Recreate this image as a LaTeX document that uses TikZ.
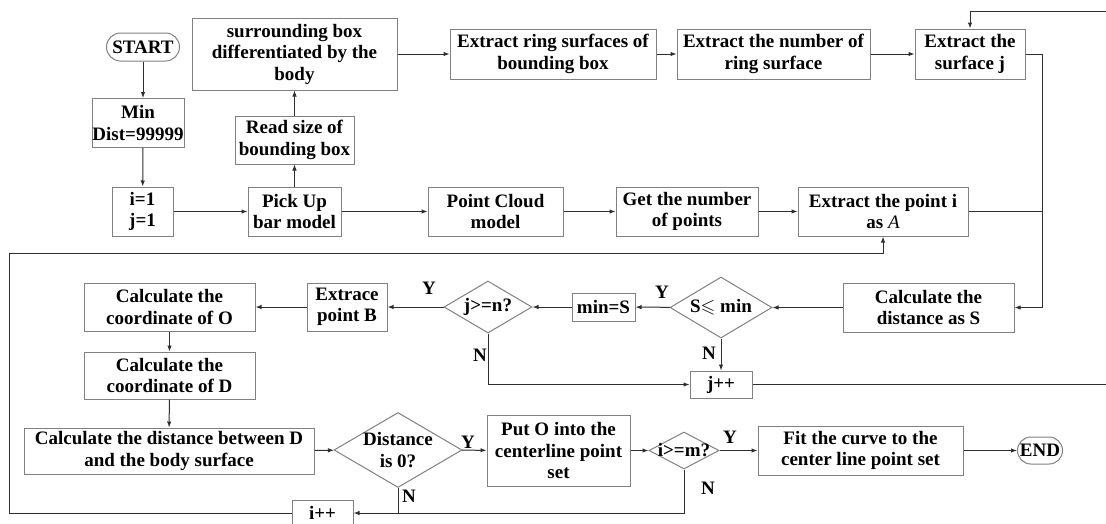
\documentclass[tikz,border=0pt]{standalone}
\usepackage{amssymb}
\usepackage{fontspec}
\setmainfont{Liberation Serif}
\usetikzlibrary{arrows.meta,shapes.geometric,shapes.misc}
\definecolor{ink}{HTML}{2E2E2E}
\definecolor{boxline}{HTML}{808080}

\begin{document}
\begin{tikzpicture}[x=1pt,y=-1pt,
  font=\fontsize{19}{21.5}\selectfont\bfseries,
  proc/.style={draw=boxline,line width=1pt,align=center,inner sep=0pt},
  term/.style={rounded rectangle,draw=boxline,line width=1pt,inner sep=0pt},
  dec/.style={diamond,draw=boxline,line width=1pt,inner sep=0pt},
  flow/.style={draw=ink,line width=1pt,-{Latex[length=6pt,width=4.5pt]}},
  wire/.style={draw=ink,line width=1pt},
  lbl/.style={inner sep=0pt}]
  \useasboundingbox (0,0) rectangle (1106,523);
  \clip (0,0) rectangle (1106,523);

  % upper rows
  \node[term,minimum width=73,minimum height=28] (start) at (143,47) {START};
  \node[proc,minimum width=92,minimum height=49] (mind) at (138,123) {Min\\Dist=99999};
  \node[proc,minimum width=61,minimum height=49] (init) at (142.5,211.5) {i=1\\j=1};
  \node[proc,minimum width=93,minimum height=49] (pick) at (294.5,211.5) {Pick Up\\bar model};
  \node[proc,minimum width=119,minimum height=48] (readsz) at (294.5,140) {Read size of\\bounding box};
  \node[proc,minimum width=205,minimum height=72] (surr) at (294.5,54) {surrounding box\\differentiated by the\\body};
  \node[proc,minimum width=206,minimum height=50] (ring) at (553,54) {Extract ring surfaces of\\bounding box};
  \node[proc,minimum width=193,minimum height=50] (nring) at (773.5,54) {Extract the number of\\ring surface};
  \node[proc,minimum width=110,minimum height=50] (surfj) at (970,54) {Extract the\\surface j};
  \node[proc,minimum width=135,minimum height=49] (cloud) at (495.5,211.5) {Point Cloud\\model};
  \node[proc,minimum width=142,minimum height=49] (npts) at (687,211.5) {Get the number\\of points};
  \node[proc,minimum width=170,minimum height=49] (pti) at (883,211.5) {Extract the point i\\as {\mdseries\itshape A}};

  % middle row
  \node[proc,minimum width=171,minimum height=49] (dists) at (928.5,307.5) {Calculate the\\distance as S};
  \node[dec,minimum width=102,minimum height=61,label={[lbl]center:{S$\leqslant$ min}}] (cmp) at (721,307.5) {};
  \node[proc,minimum width=63,minimum height=28] (setmin) at (603.5,307) {min=S};
  \node[dec,minimum width=88,minimum height=52,label={[lbl]center:{j>=n?}}] (jn) at (488,307) {};
  \node[proc,minimum width=80,minimum height=48] (ptb) at (347,307) {Extrace\\point B};
  \node[proc,minimum width=171,minimum height=48] (coordo) at (169.5,307) {Calculate the\\coordinate of O};
  \node[proc,minimum width=171,minimum height=47] (coordd) at (169.5,375.5) {Calculate the\\coordinate of D};
  \node[proc,minimum width=62,minimum height=27] (jpp) at (721,384.5) {j++};

  % lower row
  \node[proc,minimum width=290,minimum height=46] (distd) at (169,451) {Calculate the distance between D\\and the body surface};
  \node[dec,minimum width=128,minimum height=75,label={[lbl,align=center]center:{Distance\\is 0?}}] (zero) at (398,450) {};
  \node[proc,minimum width=143,minimum height=71] (puto) at (558.5,450.5) {Put O into the\\centerline point\\set};
  \node[dec,minimum width=70,minimum height=37,label={[lbl]center:{i>=m?}}] (im) at (684,450.5) {};
  \node[proc,minimum width=205,minimum height=49] (fit) at (860.5,450.5) {Fit the curve to the\\center line point set};
  \node[term,minimum width=45,minimum height=27] (fin) at (1040,450.5) {END};
  \node[proc,minimum width=61,minimum height=26] (ipp) at (322.5,513) {i++};

  % branch labels
  \node[lbl] (ycmp) at (662,292) {Y};
  \node[lbl] (yjn) at (429,288) {Y};
  \node[lbl] (ncmp) at (709,353) {N};
  \node[lbl] (njn) at (480,355) {N};
  \node[lbl] (yzero) at (468,442) {Y};
  \node[lbl] (nzero) at (409,496) {N};
  \node[lbl] (yim) at (730,437) {Y};
  \node[lbl] (nim) at (708,488) {N};

  \coordinate (bus) at (1042,307.5);
  \coordinate (rtop) at (1106,11);
  \coordinate (rbot) at (1106,384.5);
  \coordinate (lft) at (9,253);

  % connectors
  \draw[flow] (start) -- (start |- mind.north);
  \draw[flow] (start |- mind.south) -- (init);
  \draw[flow] (init) -- (pick);
  \draw[flow] (pick) -- (readsz);
  \draw[flow] (readsz) -- (surr);
  \draw[flow] (surr) -- (ring);
  \draw[flow] (ring) -- (nring);
  \draw[flow] (nring) -- (surfj);
  \draw[flow] (pick) -- (cloud);
  \draw[flow] (cloud) -- (npts);
  \draw[flow] (npts) -- (pti);
  \draw[flow] (surfj.east) -| (bus) -- (dists.east);
  \draw[wire] (pti.east) -- (pti.east -| bus);
  \draw[flow] (dists) -- (cmp);
  \draw[flow] (cmp) -- (setmin);
  \draw[flow] (setmin) -- (jn);
  \draw[flow] (jn) -- (ptb);
  \draw[flow] (ptb) -- (coordo);
  \draw[flow] (coordo) -- (coordd);
  \draw[flow] (coordd) -- (distd);
  \draw[flow] (cmp) -- (jpp);
  \draw[flow] (jn.south) |- (jpp.west);
  \draw[wire] (jpp.east) -- (rbot);
  \draw[flow] (rtop) -| (surfj.north);
  \draw[flow] (distd) -- (zero);
  \draw[flow] (zero) -- (puto);
  \draw[flow] (puto) -- (im);
  \draw[flow] (im) -- (fit);
  \draw[flow] (fit) -- (fin);
  \draw[flow] (zero.south) |- (ipp.east);
  \draw[wire] (im.south) |- (zero.south |- ipp.east);
  \draw[flow] (ipp.west) -| (lft) -| (pti.south);
\end{tikzpicture}
\end{document}
